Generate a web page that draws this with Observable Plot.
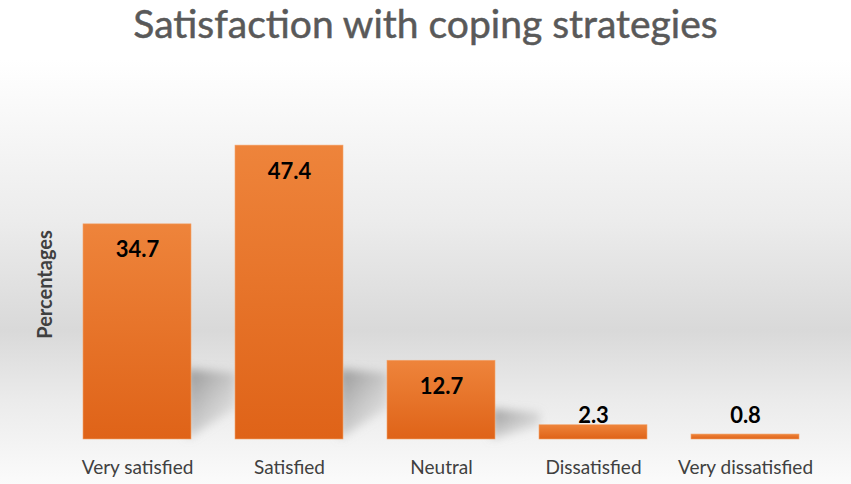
<!DOCTYPE html>
<html>
<head>
<meta charset="utf-8">
<script src="https://cdn.jsdelivr.net/npm/d3@7"></script>
<script src="https://cdn.jsdelivr.net/npm/@observablehq/plot@0.6"></script>
<style>
  html, body { margin: 0; padding: 0; }
  body {
    width: 851px; height: 484px; overflow: hidden;
    background: linear-gradient(to bottom, #ffffff 0px, #ffffff 60px, #ececec 220px, #d9d9d9 330px, #ebebeb 400px, #fbfbfb 484px);
    font-family: Lato, "Open Sans", sans-serif;
  }
  #title {
    height: 50px; line-height: 46px; text-align: center;
    font-size: 39px; color: #595959; font-family: Lato, sans-serif;
    -webkit-text-stroke: 0.5px #595959;
  }
  #chart svg { display: block; background: transparent; }
</style>
</head>
<body>
<div id="title">Satisfaction with coping strategies</div>
<div id="chart"></div>
<script>
const categories = ["Very satisfied", "Satisfied", "Neutral", "Dissatisfied", "Very dissatisfied"];
const values = [34.7, 47.4, 12.7, 2.3, 0.8];
const data = categories.map((c, i) => ({category: c, value: values[i]}));

const chart = Plot.plot({
  width: 851,
  height: 434,
  marginTop: 79,
  marginBottom: 45,
  marginLeft: 60,
  marginRight: 30,
  style: {background: "transparent", fontFamily: "Lato, sans-serif", overflow: "visible"},
  x: {domain: categories, paddingInner: 0.29, paddingOuter: 0.145, label: null},
  y: {domain: [0, 50], axis: null},
  marks: [
    () => {
      const svg = d3.create("svg:defs");
      const g = svg.append("linearGradient").attr("id", "barGrad").attr("x1", 0).attr("y1", 0).attr("x2", 0).attr("y2", 1);
      g.append("stop").attr("offset", "0%").attr("stop-color", "#ee843b");
      g.append("stop").attr("offset", "100%").attr("stop-color", "#df6318");
      const f = svg.append("filter").attr("id", "shadow").attr("x", "-50%").attr("y", "-50%").attr("width", "200%").attr("height", "200%");
      f.append("feGaussianBlur").attr("stdDeviation", 5);
      const sg = svg.append("linearGradient").attr("id", "shadowGrad").attr("x1", 0).attr("y1", 0).attr("x2", 1).attr("y2", 1);
      sg.append("stop").attr("offset", "0%").attr("stop-color", "#808080").attr("stop-opacity", 0.8);
      sg.append("stop").attr("offset", "100%").attr("stop-color", "#bbbbbb").attr("stop-opacity", 0.1);
      return svg.node();
    },
    Plot.barY(data, {x: "category", y: "value", fill: "url(#barGrad)", stroke: "#f3a36a", strokeWidth: 0.6}),
    Plot.text(data.filter(d => d.value >= 5), {x: "category", y: "value", text: d => d.value.toFixed(1), dy: 26, fontSize: 22, fontWeight: "bold", fill: "#000"}),
    Plot.text(data.filter(d => d.value < 5), {x: "category", y: 0, text: d => d.value.toFixed(1), dy: -24, fontSize: 22, fontWeight: "bold", fill: "#000"}),
    Plot.axisX({tickSize: 0, tickPadding: 21, fontSize: 19, fill: "#404040", label: null}),
    Plot.text(["Percentages"], {frameAnchor: "left", rotate: -90, dx: -15, fontSize: 20, fontWeight: "bold", fill: "#404040", textAnchor: "middle"})
  ]
});

// perspective shadows behind bars, positioned with the chart's own scales
const sx = chart.scale("x"), sy = chart.scale("y");
const bw = sx.bandwidth;
const y0 = sy.apply(0);
const shadowG = d3.select(chart).insert("g", "g[aria-label=bar]").attr("filter", "url(#shadow)");
data.forEach(d => {
  const xr = sx.apply(d.category) + bw;
  const h = y0 - sy.apply(d.value);
  const sh = Math.min(0.38 * h, 70);
  if (sh < 8) return;
  const w = 45;
  const pts = [[xr - 4, y0 - sh], [xr + w, y0 - sh + 4], [xr + w, y0 - sh * 0.45], [xr - 4, y0]];
  shadowG.append("path").attr("d", "M" + pts.map(p => p.join(",")).join("L") + "Z").attr("fill", "url(#shadowGrad)");
});
document.getElementById("chart").appendChild(chart);
</script>
</body>
</html>
